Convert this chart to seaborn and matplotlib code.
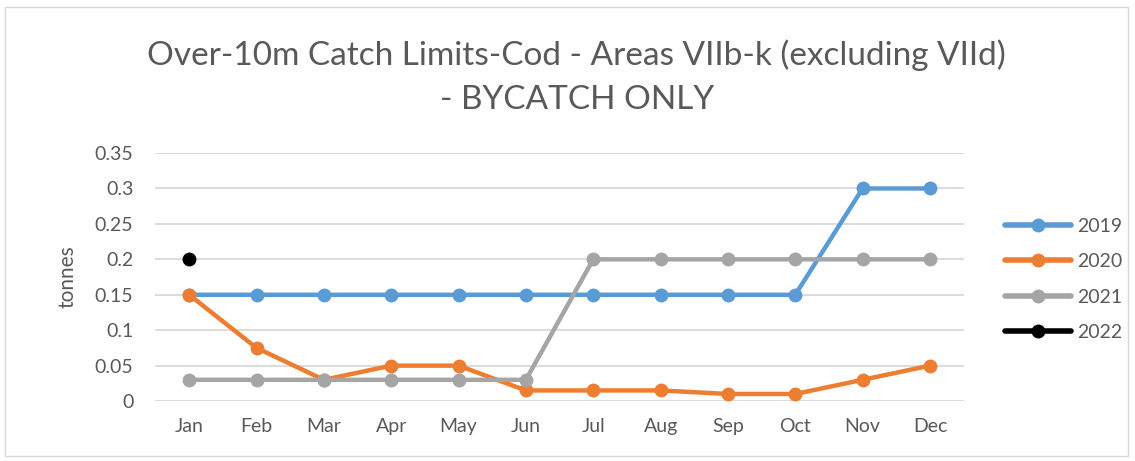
import pandas as pd
import matplotlib.pyplot as plt
import seaborn as sns
from matplotlib.patches import Rectangle

# data
months = ["Jan", "Feb", "Mar", "Apr", "May", "Jun", "Jul", "Aug", "Sep", "Oct", "Nov", "Dec"]
y2019 = [0.15, 0.15, 0.15, 0.15, 0.15, 0.15, 0.15, 0.15, 0.15, 0.15, 0.3, 0.3]
y2020 = [0.15, 0.075, 0.03, 0.05, 0.05, 0.015, 0.015, 0.015, 0.01, 0.01, 0.03, 0.05]
y2021 = [0.03, 0.03, 0.03, 0.03, 0.03, 0.03, 0.2, 0.2, 0.2, 0.2, 0.2, 0.2]
y2022 = [0.2]
years = ["2019", "2020", "2021", "2022"]
ticks = [0, 0.05, 0.1, 0.15, 0.2, 0.25, 0.3, 0.35]
tick_labels = ["0", "0.05", "0.1", "0.15", "0.2", "0.25", "0.3", "0.35"]

rows = []
for yr, vals in zip(years, [y2019, y2020, y2021, y2022]):
    for m, v in zip(months, vals):
        rows.append({"Month": m, "Year": yr, "tonnes": v})
df = pd.DataFrame(rows)

sns.set_style("white")
plt.rcParams["font.family"] = ["Lato", "DejaVu Sans"]
grey = "#595959"

fig = plt.figure(figsize=(11.35, 4.61), dpi=100)
ax = fig.add_axes([0.137, 0.13, 0.712, 0.538])

palette = {"2019": "#5B9BD5", "2020": "#ED7D31", "2021": "#A5A5A5", "2022": "#000000"}
sns.lineplot(data=df, x="Month", y="tonnes", hue="Year", palette=palette, marker="o",
             markersize=10, markeredgewidth=0, linewidth=3.2, sort=False, ax=ax)

ax.set_xlim(-0.5, 11.5)
ax.set_ylim(0, 0.35)
ax.set_yticks(ticks)
ax.set_yticklabels(tick_labels)
ax.yaxis.grid(True, color="#D9D9D9", linewidth=1.3)
ax.set_axisbelow(True)
for s in ax.spines.values():
    s.set_visible(False)
ax.tick_params(axis="both", length=0, labelsize=14, colors=grey, pad=12)
ax.tick_params(axis="y", pad=16)
ax.set_xlabel("")
ax.set_ylabel("tonnes", fontsize=15, color=grey, labelpad=12)

fig.suptitle("Over-10m Catch Limits-Cod - Areas VIIb-k (excluding VIId)\n- BYCATCH ONLY",
             x=0.508, y=0.915, fontsize=24, color=grey, linespacing=1.6)

leg = ax.legend(loc="upper left", bbox_to_anchor=(1.03, 0.81), frameon=False, fontsize=14,
                handlelength=3.4, labelspacing=0.95, handletextpad=0.3, labelcolor=grey)
for line in leg.get_lines():
    line.set_linewidth(4)

fig.add_artist(Rectangle((0.004, 0.01), 0.99, 0.975, transform=fig.transFigure,
                         fill=False, edgecolor="#D9D9D9", linewidth=1))

fig.savefig("out.png", dpi=100)
